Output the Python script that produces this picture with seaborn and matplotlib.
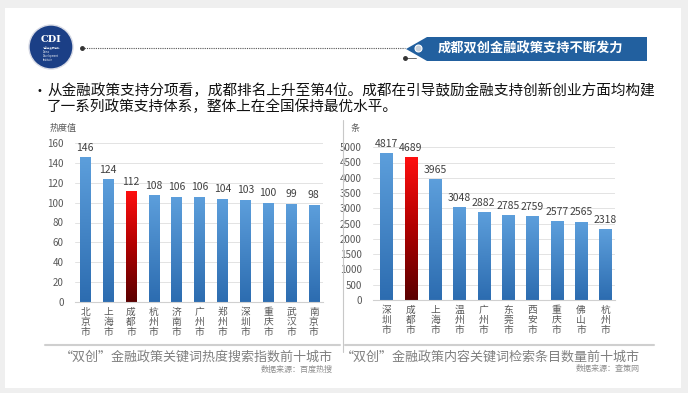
import numpy as np
import matplotlib
matplotlib.use("Agg")
import matplotlib.pyplot as plt
import matplotlib.patches as mpatches
from matplotlib.colors import LinearSegmentedColormap
import seaborn as sns

sns.set_style("white")
plt.rcParams["font.family"] = ["Noto Sans CJK SC", "DejaVu Sans"]

# ── Data ─────────────────────────────────────────────────────────────────────
heat_cities = ["北京市", "上海市", "成都市", "杭州市", "济南市", "广州市",
               "郑州市", "深圳市", "重庆市", "武汉市", "南京市"]
heat_values = [146, 124, 112, 108, 106, 106, 104, 103, 100, 99, 98]

count_cities = ["深圳市", "成都市", "上海市", "温州市", "广州市",
                "东莞市", "西安市", "重庆市", "佛山市", "杭州市"]
count_values = [4817, 4689, 3965, 3048, 2882, 2785, 2759, 2577, 2565, 2318]

HIGHLIGHT = "成都市"

W, H = 688, 393
BLUE_CMAP = LinearSegmentedColormap.from_list("b", ["#2c6cb0", "#5d9fdc"])
RED_CMAP = LinearSegmentedColormap.from_list("r", ["#5a0000", "#b00000", "#ff1010"])
GREY_TXT = "#595959"


def fx(px):
    return px / W


def fy(py):
    return 1 - py / H


fig = plt.figure(figsize=(W / 100, H / 100), dpi=100, facecolor="#efefef")

# white slide panel
fig.patches.append(mpatches.Rectangle((fx(5), fy(388)), fx(676), 380 / H,
                                      transform=fig.transFigure, fc="white", ec="none", zorder=-5))


def bar_chart(rect, cities, values, ylim, yticks, width):
    ax = fig.add_axes(rect)
    pal = ["#c00000" if c == HIGHLIGHT else "#4a8ccf" for c in cities]
    sns.barplot(x=cities, y=values, hue=cities, palette=pal, legend=False,
                width=width, ax=ax, saturation=1)
    # vertical gradient fill per bar
    grad = np.linspace(0, 1, 256).reshape(-1, 1)
    for patch, c in zip(ax.patches, cities):
        x0, w, h = patch.get_x(), patch.get_width(), patch.get_height()
        cmap = RED_CMAP if c == HIGHLIGHT else BLUE_CMAP
        im = ax.imshow(grad, extent=[x0, x0 + w, 0, h], origin="lower",
                       aspect="auto", cmap=cmap, zorder=2)
        im.set_clip_path(patch)
        patch.set_edgecolor("none")
    for i, v in enumerate(values):
        ax.annotate(f"{v}", (i, v), xytext=(0, 3), textcoords="offset points",
                    ha="center", va="bottom", fontsize=7.5, color="#404040")
    ax.set_xlim(-0.45 if len(cities) == 11 else -0.55, len(cities) - 1 + 0.4)
    ax.set_ylim(*ylim)
    ax.set_yticks(yticks)
    ax.set_xticks(range(len(cities)))
    ax.set_xticklabels(["\n".join(c) for c in cities], linespacing=1.0)
    ax.tick_params(axis="both", labelsize=7, colors=GREY_TXT, length=0)
    ax.tick_params(axis="y", pad=8)
    ax.grid(axis="y", color="#e3e3e3", lw=0.7)
    ax.set_axisbelow(True)
    for s in ["top", "right", "left"]:
        ax.spines[s].set_visible(False)
    ax.spines["bottom"].set_color("#d0d0d0")
    ax.set_xlabel("")
    ax.set_ylabel("")
    ax.set_facecolor("none")
    return ax


bar_chart([fx(75), fy(302), fx(248), 159 / H], heat_cities, heat_values,
          (0, 160), range(0, 161, 20), 0.46)
bar_chart([fx(373), fy(300), fx(242), 165 / H], count_cities, count_values,
          (0, 5400), range(0, 5001, 500), 0.5)

# axis unit labels
fig.text(fx(50), fy(128), "热度值", fontsize=6.5, color=GREY_TXT, ha="left", va="center")
fig.text(fx(351), fy(128), "条", fontsize=6.5, color=GREY_TXT, ha="left", va="center")

# divider and caption rules
fig.add_artist(plt.Line2D([fx(343), fx(343)], [fy(120), fy(352)], color="#c8c8c8", lw=0.8))
fig.add_artist(plt.Line2D([fx(45), fx(340)], [fy(345), fy(345)], color="#cfcfcf", lw=1.5))
fig.add_artist(plt.Line2D([fx(345), fx(654)], [fy(345), fy(345)], color="#cfcfcf", lw=1.5))

# captions
fig.text(fx(333), fy(357), "“双创”金融政策关键词热度搜索指数前十城市",
         fontsize=9.4, color="#808080", ha="right", va="center")
fig.text(fx(333), fy(369), "数据来源：百度热搜", fontsize=5.8, color="#8c8c8c",
         ha="right", va="center")
fig.text(fx(640), fy(357), "“双创”金融政策内容关键词检索条目数量前十城市",
         fontsize=9.4, color="#808080", ha="right", va="center")
fig.text(fx(640), fy(369), "数据来源：查策网", fontsize=5.8, color="#8c8c8c",
         ha="right", va="center")

# bullet text
fig.text(fx(36), fy(91), "•", fontsize=7, color="#111111", ha="left", va="center",
         family="DejaVu Sans")
fig.text(fx(47), fy(91), "从金融政策支持分项看，成都排名上升至第4位。成都在引导鼓励金融支持创新创业方面均构建",
         fontsize=10.5, color="#111111", ha="left", va="center")
fig.text(fx(47), fy(107), "了一系列政策支持体系，整体上在全国保持最优水平。",
         fontsize=10.5, color="#111111", ha="left", va="center")

# header: logo, dotted line, banner
fig.patches.append(mpatches.Ellipse((fx(51), fy(47)), 44 / W, 44 / H, transform=fig.transFigure,
                                    fc="#1b3f86", ec="#d8dbe6", lw=1.0, zorder=3))
fig.text(fx(51), fy(40), "CDI", fontsize=7, color="white", family="DejaVu Serif",
         weight="bold", ha="center", va="center", zorder=4)
fig.text(fx(43), fy(54), "综合开发研究院\nChina\nDevelopment\nInstitute", fontsize=1.8,
         color="white", ha="left", va="center", linespacing=1.0, zorder=4)
fig.add_artist(plt.Line2D([fx(82), fx(405)], [fy(48), fy(48)], color="#555555", lw=0.8, ls=(0, (1, 1))))
fig.add_artist(plt.Line2D([fx(82)], [fy(48)], marker="o", ms=2.5, color="#333333"))
fig.add_artist(plt.Line2D([fx(405), fx(416)], [fy(58), fy(58)], color="#555555", lw=0.6))
fig.add_artist(plt.Line2D([fx(405)], [fy(58)], marker="o", ms=2.5, color="#333333"))

banner = [(427, 37), (647, 37), (647, 61), (427, 61), (406, 49)]
fig.patches.append(mpatches.Polygon([(fx(x), fy(y)) for x, y in banner], closed=True,
                                    transform=fig.transFigure, fc="#22609f", ec="none", zorder=3))
fig.add_artist(plt.Line2D([fx(418)], [fy(48)], marker="o", ms=5, mfc="#c9d2dc",
                          mec="white", mew=0.8, zorder=5))
fig.text(fx(530), fy(49), "成都双创金融政策支持不断发力", fontsize=9.5, weight="bold",
         color="white", ha="center", va="center", zorder=5)

plt.savefig("out.png", dpi=100, facecolor=fig.get_facecolor())
plt.close()
